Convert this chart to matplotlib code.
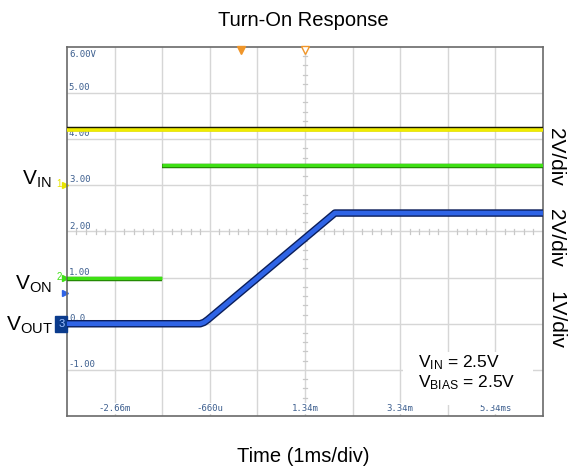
import numpy as np
import matplotlib.pyplot as plt
from matplotlib.patches import Rectangle

plt.rcParams['font.family'] = ['Liberation Sans', 'DejaVu Sans']

# scope screen: 10 horizontal divisions at 1 ms/div, 8 vertical divisions
t_left, t_right = -3.66, 6.34
v_bottom, v_top = -2.0, 6.0
time_ticks = [-2.66, -0.66, 1.34, 3.34, 5.34]
time_labels = ['-2.66m', '-660u', '1.34m', '3.34m', '5.34ms']
volt_ticks = [6, 5, 4, 3, 2, 1, 0, -1]
volt_labels = ['6.00V', '5.00', '4.00', '3.00', '2.00', '1.00', '0.0', '-1.00']

# traces in screen divisions
vin_t = [-3.66, 6.34]
vin_v = [4.2, 4.2]
von_low_t = [-3.66, -1.66]
von_low_v = [1.0, 1.0]
von_high_t = [-1.66, 6.34]
von_high_v = [3.45, 3.45]
vout_t = [-3.66, -0.86, -0.78, -0.70, 1.97, 6.34]
vout_v = [0.0, 0.0, 0.03, 0.09, 2.40, 2.40]

# channel ground markers
ch_levels = [3.0, 1.0, 0.0]
trig_level = 0.66
trig_time = 0.0

fig = plt.figure(figsize=(5.7, 4.71), dpi=100)
ax = fig.add_axes([0.1175, 0.1168, 0.835, 0.7834])
ax.set_xlim(t_left, t_right)
ax.set_ylim(v_bottom, v_top)

# grid
for k in range(1, 10):
    ax.axvline(t_left + k, color='#d6d6d6', lw=1.0, zorder=1)
for k in range(1, 8):
    ax.axhline(v_bottom + k, color='#d6d6d6', lw=1.0, zorder=1)
# minor ticks on the centre lines
tc, vc = 1.34, 2.0
for k in range(-25, 26):
    x = tc + k * 0.2
    if k % 5:
        ax.plot([x, x], [vc - 0.05, vc + 0.05], color='#c8c8c8', lw=0.9, zorder=1)
for k in range(-20, 21):
    y = vc + k * 0.2
    if k % 5:
        ax.plot([tc - 0.05, tc + 0.05], [y, y], color='#c8c8c8', lw=0.9, zorder=1)

ax.set_xticks([])
ax.set_yticks([])
for s in ax.spines.values():
    s.set_color('#6a6a6a')
    s.set_linewidth(1.2)

lab_col = '#3d5f8f'
for v, lab in zip(volt_ticks, volt_labels):
    if v == 6:
        ax.text(t_left + 0.04, v - 0.06, lab, fontsize=6.5, family='DejaVu Sans Mono',
                color=lab_col, ha='left', va='top', zorder=2)
    else:
        ax.text(t_left + 0.04, v + 0.02, lab, fontsize=6.5, family='DejaVu Sans Mono',
                color=lab_col, ha='left', va='bottom', zorder=2)
for t, lab in zip(time_ticks, time_labels):
    ax.text(t, v_bottom + 0.06, lab, fontsize=6.5, family='DejaVu Sans Mono',
            color=lab_col, ha='center', va='bottom', zorder=2,
            bbox=dict(boxstyle='square,pad=0.1', fc='white', ec='none'))

# VIN trace (yellow, dark top edge)
ax.plot(vin_t, np.array(vin_v) + 0.025, color='#1a1a00', lw=3.2, zorder=4, solid_capstyle='butt')
ax.plot(vin_t, np.array(vin_v) - 0.01, color='#f0ec00', lw=2.6, zorder=5, solid_capstyle='butt')

# VON trace (green, darker lower edge)
for tt, vv in [(von_low_t, von_low_v), (von_high_t, von_high_v)]:
    ax.plot(tt, np.array(vv) - 0.025, color='#1f7a00', lw=3.2, zorder=4, solid_capstyle='butt')
    ax.plot(tt, vv, color='#3ee014', lw=2.4, zorder=5, solid_capstyle='butt')

# VOUT trace (blue, dark outline)
ax.plot(vout_t, vout_v, color='#0b1e5a', lw=5.4, zorder=4, solid_capstyle='butt')
ax.plot(vout_t, vout_v, color='#2f64e6', lw=3.4, zorder=5, solid_capstyle='butt')

# trigger markers along the top edge
ax.plot([trig_time], [v_top - 0.07], marker='v', ms=6, color='#f0962a', clip_on=False, zorder=6)
ax.plot([tc], [v_top - 0.07], marker='v', ms=6, mfc='white', mec='#f0962a', mew=1.0,
        clip_on=False, zorder=6)

# channel markers on the left edge
ax.text(t_left - 0.17, ch_levels[0] + 0.02, '1', color='#e8e400', fontsize=7, ha='center', va='center')
ax.plot([t_left - 0.05], [ch_levels[0]], marker='>', ms=4, color='#e8e400', clip_on=False)
ax.text(t_left - 0.17, ch_levels[1] + 0.02, '2', color='#3ee014', fontsize=7, ha='center', va='center')
ax.plot([t_left - 0.05], [ch_levels[1]], marker='>', ms=4, color='#3ee014', clip_on=False)
ax.plot([t_left - 0.05], [trig_level], marker='>', ms=4, color='#2f64e6', clip_on=False)
ax.text(t_left - 0.12, ch_levels[2], '3', color='#9fc0ff', fontsize=8, ha='center', va='center',
        bbox=dict(boxstyle='square,pad=0.25', fc='#0b3b8c', ec='#0b3b8c'))

# channel names
ax.text(t_left - 0.32, ch_levels[0] + 0.12, r'$\mathregular{V_{IN}}$', fontsize=15,
        ha='right', va='center')
ax.text(t_left - 0.32, ch_levels[1] - 0.15, r'$\mathregular{V_{ON}}$', fontsize=15,
        ha='right', va='center')
ax.text(t_left - 0.30, ch_levels[2] - 0.03, r'$\mathregular{V_{OUT}}$', fontsize=15,
        ha='right', va='center')

# test conditions
ax.add_patch(Rectangle((3.40, -1.76), 2.73, 1.15, fc='white', ec='none', zorder=3))
ax.text(3.72, -1.06, r'$\mathregular{V_{IN}}$ = 2.5V' + '\n' + r'$\mathregular{V_{BIAS}}$ = 2.5V',
        fontsize=12.5, ha='left', va='center', linespacing=1.15, zorder=6)

# per-channel scale labels
fig.text(0.975, 1 - 157 / 471, '2V/div', rotation=-90, fontsize=15, ha='center', va='center')
fig.text(0.975, 1 - 238 / 471, '2V/div', rotation=-90, fontsize=15, ha='center', va='center')
fig.text(0.975, 1 - 320 / 471, '1V/div', rotation=-90, fontsize=15, ha='center', va='center')

fig.text(0.532, 1 - 20 / 471, 'Turn-On Response', fontsize=14.5, ha='center', va='center')
fig.text(0.532, 1 - 457 / 471, 'Time (1ms/div)', fontsize=14.5, ha='center', va='center')

fig.savefig('out.png', dpi=100)
